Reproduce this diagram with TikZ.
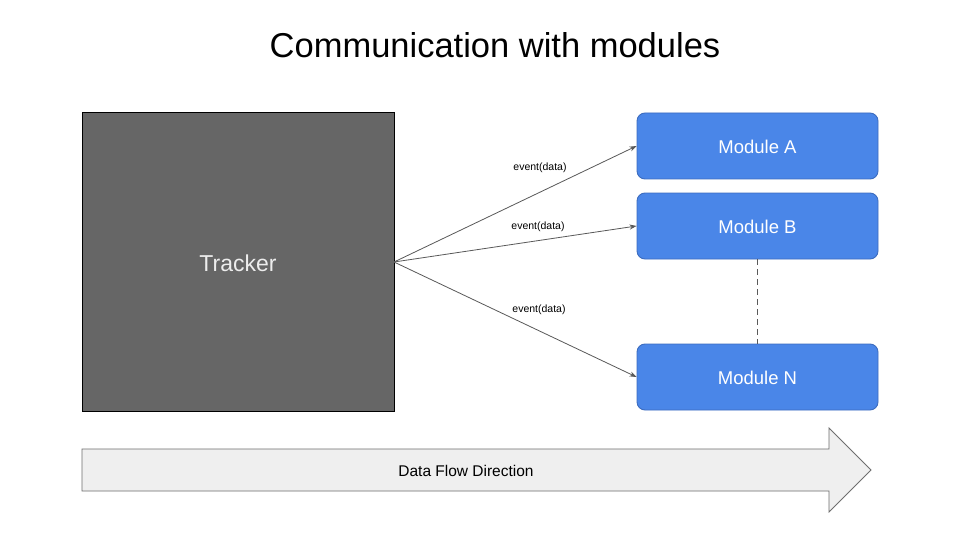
\documentclass[tikz,border=0pt]{standalone}
\usepackage{fontspec}
\setmainfont{Liberation Sans}
\usetikzlibrary{arrows.meta}
\definecolor{trk}{HTML}{666666}
\definecolor{modfill}{HTML}{4A86E8}
\definecolor{modline}{HTML}{3C6CBF}
\definecolor{lncol}{HTML}{595959}
\definecolor{flowfill}{HTML}{EFEFEF}
\definecolor{flowline}{HTML}{6E6E6E}
\tikzset{
  modbox/.style={draw=modline, line width=0.9pt, fill=modfill, rounded corners=8pt,
    minimum width=241pt, minimum height=66pt, text=white, font=\fontsize{18.5}{20}\selectfont, inner sep=0pt},
  conn/.style={draw=lncol, line width=0.8pt, -{Stealth[length=7pt,width=5pt]}},
  lbl/.style={font=\fontsize{10.5}{12}\selectfont, text=black, inner sep=0pt},
}
\begin{document}
\begin{tikzpicture}[x=1pt,y=-1pt]
\useasboundingbox (0,0) rectangle (960,540);
\fill[white] (0,0) rectangle (960,540);
\node[font=\fontsize{34.5}{38}\selectfont, anchor=base] (title) at (495,58) {Communication with modules};
\node[draw=black, line width=0.9pt, fill=trk, minimum width=312pt, minimum height=299pt, inner sep=0pt,
  text=white!93!black, font=\fontsize{23}{26}\selectfont] (tracker) at (238,261.5) {};
\node[text=white!93!black, font=\fontsize{23}{26}\selectfont] (trlabel) at (238,263) {Tracker};
\node[modbox] (ma) at (757.5,146) {};
\node[modbox] (mb) at (757.5,226) {};
\node[modbox] (mn) at (757.5,377) {};
\node[text=white, font=\fontsize{18.5}{20}\selectfont] (ta) at (757.5,147) {Module A};
\node[text=white, font=\fontsize{18.5}{20}\selectfont] (tb) at (757.5,227) {Module B};
\node[text=white, font=\fontsize{18.5}{20}\selectfont] (tn) at (757.5,378) {Module N};
\coordinate (src) at (394,262);
\draw[conn] (src) -- (ma.west);
\draw[conn] (src) -- (mb.west);
\draw[conn] (src) -- (mn.west);
\node[lbl] (l1) at (540,168) {event(data)};
\node[lbl] (l2) at (538,226.5) {event(data)};
\node[lbl] (l3) at (539,309.5) {event(data)};
\draw[lncol, line width=0.8pt, dash pattern=on 6pt off 4pt] (mb.south) -- (mn.north);
\draw[draw=flowline, fill=flowfill, line width=0.8pt]
  (82,449) -- (829,449) -- (829,428) -- (871,470) -- (829,512) -- (829,491) -- (82,491) -- cycle;
\node[font=\fontsize{15.5}{18}\selectfont] (flow) at (466,471) {Data Flow Direction};
\end{tikzpicture}
\end{document}
